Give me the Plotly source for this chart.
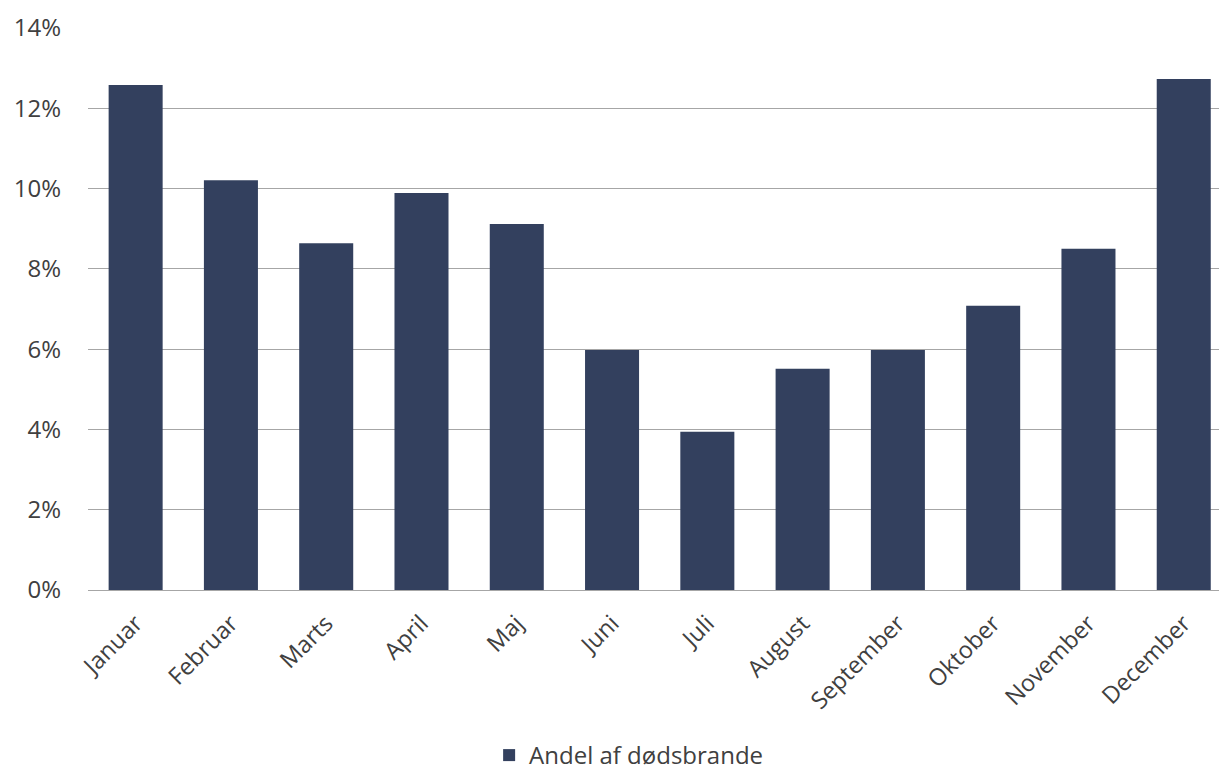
import plotly.graph_objects as go

months = ["Januar", "Februar", "Marts", "April", "Maj", "Juni", "Juli",
          "August", "September", "Oktober", "November", "December"]
values = [12.58, 10.21, 8.64, 9.89, 9.12, 5.98, 3.94, 5.51, 5.98, 7.08, 8.50, 12.73]
series_name = "Andel af dødsbrande"
y_ticks = [0, 2, 4, 6, 8, 10, 12, 14]
y_tick_labels = [f"{v}%" for v in y_ticks]

font_family = "Open Sans, Lato, sans-serif"
text_color = "#404040"

fig = go.Figure(go.Bar(
    x=months, y=values, name=series_name,
    marker=dict(color="#33405e", line=dict(width=0)),
    showlegend=True,
))

fig.update_layout(
    width=1219, height=778,
    margin=dict(l=88, r=0, t=28, b=188, autoexpand=False),
    plot_bgcolor="white", paper_bgcolor="white",
    bargap=0.433,
    font=dict(family=font_family, color=text_color, size=22),
    showlegend=True,
    legend=dict(orientation="h", x=0.478, xanchor="center",
                yref="container", y=0.0, yanchor="bottom",
                font=dict(size=24, color=text_color), itemsizing="constant"),
)
fig.update_xaxes(
    range=[-0.5, 11.37], tickangle=-45, tickfont=dict(size=23.5, color=text_color),
    showgrid=False, showline=False, ticks="", automargin=False,
    ticklabelstandoff=14,
)
fig.update_yaxes(
    range=[0, 14], tickvals=y_ticks, ticktext=y_tick_labels,
    tickfont=dict(size=24, color=text_color),
    showgrid=True, gridcolor="#a6a6a6", gridwidth=1,
    zeroline=True, zerolinecolor="#a6a6a6", zerolinewidth=1,
    showline=False, ticks="", ticklabelstandoff=26, automargin=False,
)

fig.write_html("out.html")
